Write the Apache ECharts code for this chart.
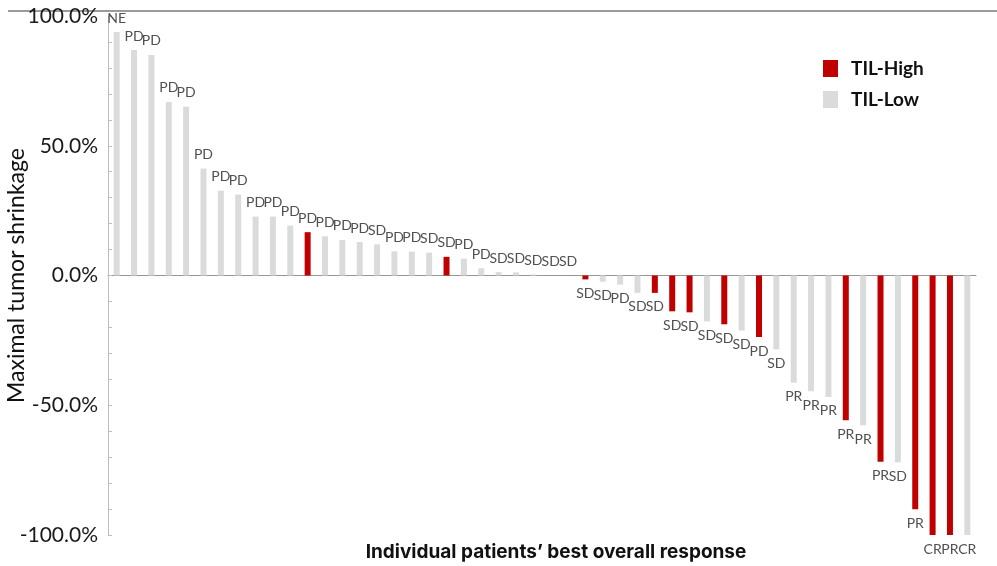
<!DOCTYPE html>
<html><head><meta charset="utf-8">
<script src="https://cdn.jsdelivr.net/npm/echarts@6/dist/echarts.min.js"></script>
<style>html,body{margin:0;padding:0;background:#fff}#c{width:997px;height:566px}</style>
</head><body><div id="c"></div>
<script>
// Maximal tumor shrinkage (%) per patient, ordered as in the waterfall
const values = [93.8, 86.9, 85.0, 66.9, 65.0, 41.2, 32.7, 31.2, 22.7, 22.7,
  19.2, 16.7, 15.1, 13.7, 12.9, 12.0, 9.3, 9.2, 8.8, 7.2,
  6.5, 2.8, 1.3, 1.2, 0.4, 0, 0, -1.5, -2.4, -3.5,
  -6.7, -6.7, -13.8, -14.2, -17.7, -18.8, -21.2, -23.7, -28.5, -41.3,
  -44.6, -46.8, -55.8, -57.7, -71.8, -72.0, -90.1, -100, -100, -100];
// Best overall response per patient
const responses = ['NE','PD','PD','PD','PD','PD','PD','PD','PD','PD',
  'PD','PD','PD','PD','PD','SD','PD','PD','SD','SD',
  'PD','PD','SD','SD','SD','SD','SD','SD','SD','PD',
  'SD','SD','SD','SD','SD','SD','SD','PD','SD','PR',
  'PR','PR','PR','PR','PR','SD','PR','CR','PR','CR'];
// TIL group: H = TIL-High, L = TIL-Low
const groups = ['L','L','L','L','L','L','L','L','L','L',
  'L','H','L','L','L','L','L','L','L','H',
  'L','L','L','L','L','L','L','H','L','L',
  'L','H','H','H','L','H','L','H','L','L',
  'L','L','H','L','H','L','H','H','H','L'];
const seriesNames = ['TIL-High', 'TIL-Low'];
const yTickValues = [-100, -50, 0, 50, 100];

const categories = values.map((v, i) => 'P' + (i + 1));
const RED = '#C00000', GREY = '#DADCDB';

function buildData(g) {
  return values.map((v, i) => {
    if (groups[i] !== g) return '-';
    return {
      value: v,
      label: { position: v >= 0 ? 'top' : 'bottom' }
    };
  });
}
const labelCfg = {
  show: true,
  distance: 7,
  fontFamily: 'Lato',
  fontSize: 14,
  color: '#505050',
  formatter: p => responses[p.dataIndex]
};

const chart = echarts.init(document.getElementById('c'));
chart.setOption({
  animation: false,
  textStyle: { fontFamily: 'Lato' },
  grid: { left: 108, right: 21, top: 16, bottom: 31, outerBoundsMode: 'none', containLabel: false },
  legend: {
    orient: 'vertical', left: 818, top: 54, itemGap: 12,
    icon: 'rect', itemWidth: 15, itemHeight: 17,
    textStyle: { fontFamily: 'Lato', fontWeight: 'bold', fontSize: 19, color: '#111', padding: [0, 0, 0, 8] },
    data: seriesNames
  },
  xAxis: {
    type: 'category', data: categories,
    axisLine: { onZero: true, lineStyle: { color: '#9a9595', width: 1 } },
    axisTick: { show: false }, axisLabel: { show: false }
  },
  yAxis: {
    type: 'value', min: yTickValues[0], max: yTickValues[yTickValues.length - 1], interval: 50,
    name: 'Maximal tumor shrinkage', nameLocation: 'middle', nameGap: 80, nameRotate: 90,
    nameMoveOverlap: false,
    nameTextStyle: { fontFamily: 'Lato', fontSize: 23, color: '#111' },
    axisLine: { show: true, lineStyle: { color: '#bdbdbd' } },
    axisTick: { show: true, inside: true, length: 4, lineStyle: { color: '#bdbdbd' } },
    minorTick: { show: true, splitNumber: 5, length: 4, lineStyle: { color: '#bdbdbd' } },
    splitLine: { show: false },
    axisLabel: { fontFamily: 'Lato', fontSize: 21, color: '#1a1a1a', margin: 10,
      formatter: v => v.toFixed(1) + '%' }
  },
  series: [
    { name: seriesNames[0], type: 'bar', data: buildData('H'), barWidth: 6, barGap: '-100%',
      itemStyle: { color: RED }, label: labelCfg },
    { name: seriesNames[1], type: 'bar', data: buildData('L'), barWidth: 6, barGap: '-100%',
      itemStyle: { color: GREY }, label: labelCfg }
  ],
  graphic: [
    { type: 'line', shape: { x1: 8, y1: 11, x2: 997, y2: 11 }, style: { stroke: '#7a7a7a', lineWidth: 1.5 } },
    { type: 'text', x: 556, y: 552,
      style: { text: 'Individual patients\u2019 best overall response', fontFamily: 'Inter', fontWeight: 'bold', fontSize: 19, fill: '#111', textAlign: 'center', textVerticalAlign: 'middle' } }
  ]
});
</script></body></html>
